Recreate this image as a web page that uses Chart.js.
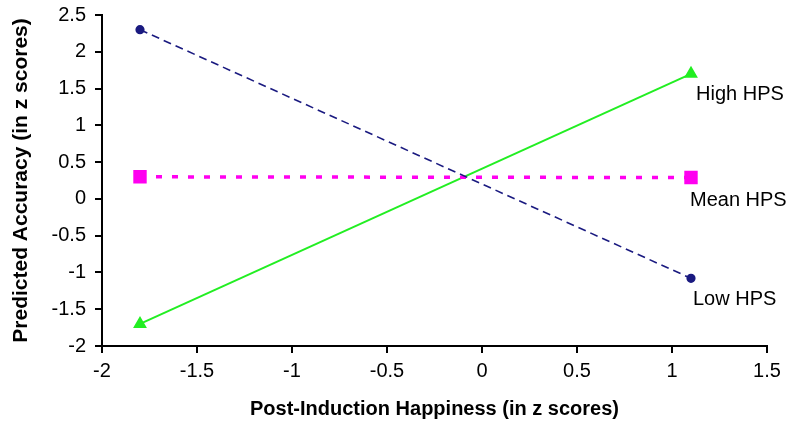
<!DOCTYPE html>
<html>
<head>
<meta charset="utf-8">
<script src="https://cdn.jsdelivr.net/npm/chart.js@4"></script>
<style>
  html, body { margin: 0; padding: 0; background: #fff; }
  #wrap { width: 800px; height: 425px; }
</style>
</head>
<body>
<div id="wrap"><canvas id="myChart" width="800" height="425"></canvas></div>
<script>
// values
const happinessX = [-1.8, 1.1];
const lowHPS = [2.3, -1.08];
const meanHPS = [0.3, 0.29];
const highHPS = [-1.7, 1.7];
const seriesNames = ["Low HPS", "Mean HPS", "High HPS"];

const FONT = "'Liberation Sans', Arial, sans-serif";

function toPoints(ys) {
  return happinessX.map((x, i) => ({ x: x, y: ys[i] }));
}

// writes the series name under the right-hand end of each line
const endLabels = {
  id: "endLabels",
  afterDatasetsDraw(chart) {
    const ctx = chart.ctx;
    ctx.save();
    ctx.font = "20px " + FONT;
    ctx.fillStyle = "#000";
    ctx.textBaseline = "middle";
    ctx.textAlign = "left";
    const offsets = [[2, 21], [-1, 23], [5, 21]];
    chart.data.datasets.forEach((ds, i) => {
      const meta = chart.getDatasetMeta(i);
      const last = meta.data[meta.data.length - 1];
      ctx.fillText(ds.label, last.x + offsets[i][0], last.y + offsets[i][1]);
    });
    ctx.restore();
  }
};

const plainTick = v => String(Math.round(v * 10) / 10);

const ctx = document.getElementById("myChart").getContext("2d");
const chart = new Chart(ctx, {
  type: "scatter",
  data: {
    datasets: [
      {
        label: seriesNames[0],
        data: toPoints(lowHPS),
        showLine: true,
        borderColor: "#1a1a80",
        backgroundColor: "#1a1a80",
        borderWidth: 1.6,
        borderDash: [8, 5],
        pointStyle: "circle",
        pointRadius: 3.8
      },
      {
        label: seriesNames[1],
        data: toPoints(meanHPS),
        showLine: true,
        borderColor: "#ff00f0",
        backgroundColor: "#ff00f0",
        borderWidth: 3.5,
        borderDash: [6, 10],
        pointStyle: "rect",
        pointRadius: 7
      },
      {
        label: seriesNames[2],
        data: toPoints(highHPS),
        showLine: true,
        borderColor: "#22ee22",
        backgroundColor: "#22ee22",
        borderWidth: 2,
        pointStyle: "triangle",
        pointRadius: 6
      }
    ]
  },
  options: {
    responsive: false,
    animation: false,
    layout: { padding: { top: 15, right: 33, left: 0, bottom: 0 } },
    plugins: {
      legend: { display: false },
      tooltip: { enabled: false }
    },
    scales: {
      x: {
        type: "linear",
        min: -2,
        max: 1.5,
        afterFit(scale) {
          scale.height = 79;
          scale.paddingLeft = 0;
          scale.paddingRight = 0;
        },
        ticks: {
          stepSize: 0.5,
          callback: plainTick,
          color: "#000",
          font: { family: FONT, size: 20 },
          padding: 6
        },
        grid: {
          drawOnChartArea: false,
          drawTicks: true,
          tickLength: 7,
          color: "#000",
          lineWidth: 2
        },
        border: { display: true, color: "#000", width: 2 },
        title: {
          display: true,
          text: "Post-Induction Happiness (in z scores)",
          color: "#000",
          font: { family: FONT, size: 20, weight: "bold" },
          padding: { top: 4 }
        }
      },
      y: {
        type: "linear",
        min: -2,
        max: 2.5,
        afterFit(scale) {
          scale.width = 102;
          scale.paddingTop = 0;
          scale.paddingBottom = 0;
        },
        ticks: {
          stepSize: 0.5,
          callback: plainTick,
          color: "#000",
          font: { family: FONT, size: 20 },
          padding: 9
        },
        grid: {
          drawOnChartArea: false,
          drawTicks: true,
          tickLength: 7,
          color: "#000",
          lineWidth: 2
        },
        border: { display: true, color: "#000", width: 2 },
        title: {
          display: true,
          text: "Predicted Accuracy (in z scores)",
          color: "#000",
          font: { family: FONT, size: 21, weight: "bold" },
          padding: { top: 9, bottom: 4 }
        }
      }
    }
  },
  plugins: [endLabels]
});
</script>
</body>
</html>
